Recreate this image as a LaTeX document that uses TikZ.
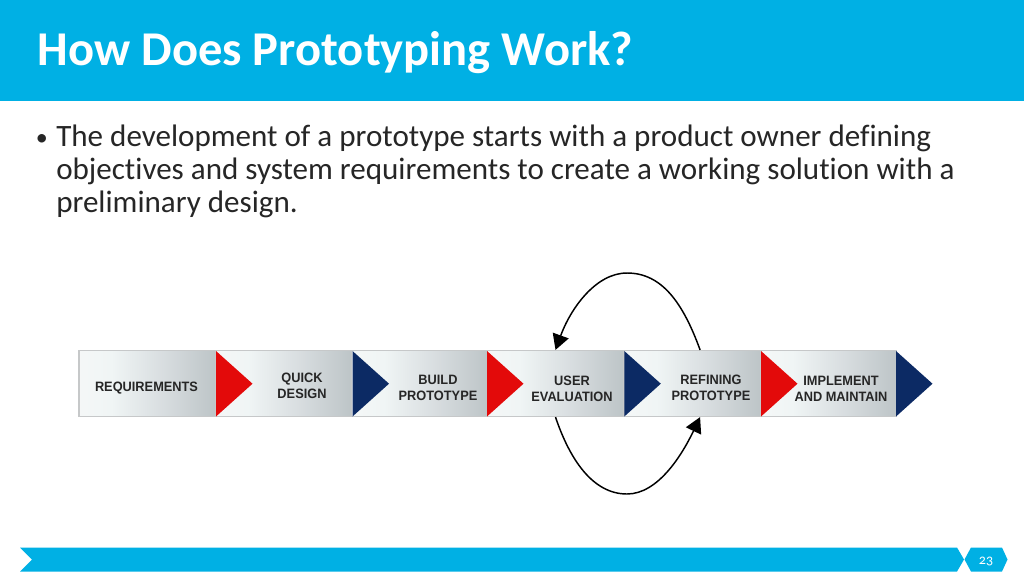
\documentclass[tikz,border=0pt]{standalone}
\usepackage{fontspec}
\setmainfont{Carlito}[Ligatures=NoCommon]
\newfontfamily\boxfont{Liberation Sans}[FakeStretch=0.94]
\newfontfamily\numfont{Carlito}[Numbers=OldStyle]
\usetikzlibrary{arrows.meta,calc}
\definecolor{hdr}{HTML}{00B0E4}
\definecolor{ink}{HTML}{262626}
\definecolor{redtri}{HTML}{E30A0A}
\definecolor{navytri}{HTML}{0C2A64}
\definecolor{boxedge}{HTML}{C6C8C9}
\pgfdeclarehorizontalshading{segshade}{100bp}{
  rgb(0bp)=(0.96,0.97,0.97);
  rgb(25bp)=(0.96,0.97,0.97);
  rgb(37bp)=(0.94,0.96,0.96);
  rgb(55bp)=(0.85,0.87,0.88);
  rgb(75bp)=(0.74,0.77,0.78);
  rgb(100bp)=(0.74,0.77,0.78)}
\tikzset{
  x=0.75pt,y=-0.75pt,
  seg/.style={draw=boxedge,line width=0.9pt,inner sep=0,minimum width=102.5pt,minimum height=49.5pt,shading=segshade},
  lab/.style={font=\boxfont\bfseries\fontsize{10.2pt}{11.7pt}\selectfont,text=ink,align=center,inner sep=0},
  loopline/.style={draw=black,line width=1.1pt,-{Triangle[length=11.5pt,width=12.5pt]}},
}
\begin{document}
\begin{tikzpicture}
\useasboundingbox (0,0) rectangle (1024,576);
\fill[white] (0,0) rectangle (1024,576);
\fill[hdr] (0,0) rectangle (1024,101);
\node[anchor=base west,inner sep=0,text=white,font=\bfseries\fontsize{36.4pt}{40pt}\selectfont] (title) at (37.5,65) {How Does Prototyping Work?};
\node[anchor=base west,inner sep=0,text=ink,font=\fontsize{18pt}{20pt}\selectfont] (dot) at (35.5,145) {•};
\node[anchor=base west,inner sep=0,text=ink,font=\fontsize{23.3pt}{24.75pt}\selectfont,align=left] (body) at (56,212) {The development of a prototype starts with a product owner defining\\objectives and system requirements to create a working solution with a\\preliminary design.};
\node[seg,minimum width=102.75pt] (s1) at (147.5,383.5) {};
\node[seg] (s2) at (284,383.5) {};
\node[seg] (s3) at (420,383.5) {};
\node[seg] (s4) at (555.5,383.5) {};
\node[seg] (s5) at (692.5,383.5) {};
\node[seg] (s6) at (828.5,383.5) {};
\foreach \xx/\cc in {216/redtri,352.5/navytri,487/redtri,624.3/navytri,761/redtri,896/navytri}
  \fill[\cc] (\xx,351) -- (\xx+36.5,383.7) -- (\xx,416.5) -- cycle;
\node[lab] (l1) at (146.5,388) {REQUIREMENTS};
\node[lab] (l2) at (302,386) {QUICK\\DESIGN};
\node[lab] (l3) at (438,388) {BUILD\\PROTOTYPE};
\node[lab] (l4) at (572,389) {USER\\EVALUATION};
\node[lab] (l5) at (711,388) {REFINING\\PROTOTYPE};
\node[lab] (l6) at (841,389) {IMPLEMENT\\AND MAINTAIN};
\coordinate (rt) at ($(s5.north west)!0.555!(s5.north east)$);
\coordinate (rb) at ($(s5.south west)!0.555!(s5.south east)$);
\draw[loopline] (rt) .. controls (683,303) and (662,273) .. (627,273) .. controls (595,273) and (570,310) .. (s4.north);
\draw[loopline] (s4.south) .. controls (570,460) and (593,494) .. (627,494) .. controls (658,494) and (682,455) .. (rb);
\fill[hdr] (20,547.5) -- (957,547.5) -- (964,559.5) -- (957,571.5) -- (20,571.5) -- (32,559.5) -- cycle;
\fill[hdr] (964.5,559.5) -- (971,547.5) -- (1002,547.5) -- (1007.5,559.5) -- (1002,571.5) -- (971,571.5) -- cycle;
\node[inner sep=0,text=white,font=\numfont\fontsize{10.5pt}{12pt}\selectfont] (num) at (986,561) {23};
\end{tikzpicture}
\end{document}
